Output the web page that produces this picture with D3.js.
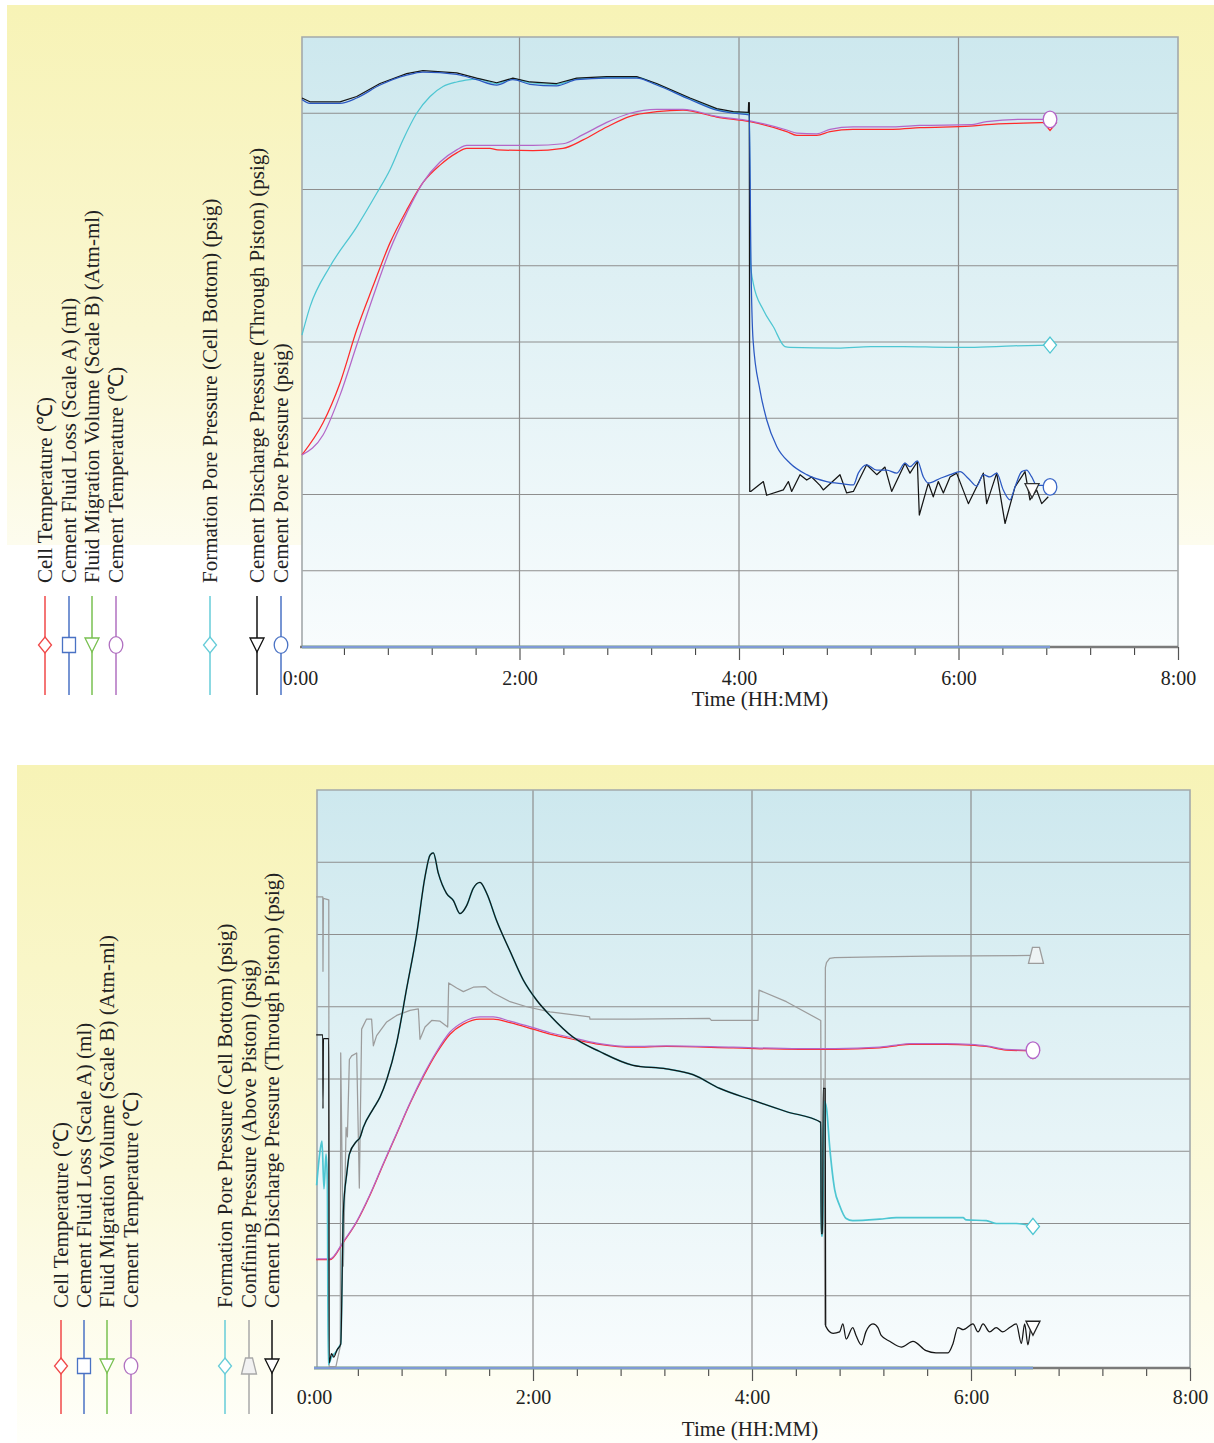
<!DOCTYPE html>
<html><head><meta charset="utf-8">
<script src="https://cdnjs.cloudflare.com/ajax/libs/d3/7.8.5/d3.min.js"></script>
<style>body{margin:0;background:#fff}svg{display:block}</style>
</head><body>
<svg id="chart" width="1214" height="1443"></svg>
<script>
// ---------------- DATA (time in hours, value in grid units 0..8) ----------------
const timeTicks = [0, 2, 4, 6, 8];
const tickLabels = ["0:00", "2:00", "4:00", "6:00", "8:00"];
const minorTicks = [0.4,0.8,1.2,1.6,2.4,2.8,3.2,3.6,4.4,4.8,5.2,5.6,6.4,6.8,7.2,7.6];
const gridLevels = [1, 2, 3, 4, 5, 6, 7];
const gridTimes = [2, 4, 6];
const axisTitle = "Time (HH:MM)";

const legendNames1 = ["Cell Temperature (℃)", "Cement Fluid Loss (Scale A) (ml)", "Fluid Migration Volume (Scale B) (Atm-ml)", "Cement Temperature (℃)",
  "Formation Pore Pressure (Cell Bottom) (psig)", "Cement Discharge Pressure (Through Piston) (psig)", "Cement Pore Pressure (psig)"];
const legendNames2 = ["Cell Temperature (℃)", "Cement Fluid Loss (Scale A) (ml)", "Fluid Migration Volume (Scale B) (Atm-ml)", "Cement Temperature (℃)",
  "Formation Pore Pressure (Cell Bottom) (psig)", "Confining Pressure (Above Piston) (psig)", "Cement Discharge Pressure (Through Piston) (psig)"];

// ---- Panel 1 ----
const p1CellTemp = [[0.018,2.52],[0.21,2.94],[0.364,3.46],[0.517,4.16],[0.665,4.73],[0.82,5.30],[0.972,5.73],[1.12,6.09],[1.276,6.32],[1.428,6.48],[1.519,6.54],[1.731,6.54],[1.80,6.52],[2.123,6.51],[2.396,6.54],[2.579,6.65],[2.795,6.82],[3.007,6.96],[3.25,7.02],[3.49,7.04],[3.797,6.95],[4.1,6.89],[4.435,6.76],[4.526,6.71],[4.708,6.71],[4.829,6.76],[5.039,6.79],[5.403,6.79],[5.649,6.81],[6.105,6.83],[6.257,6.85],[6.588,6.87],[6.834,6.88]];
const p1CementTemp = [[0.018,2.52],[0.21,2.78],[0.364,3.30],[0.517,3.96],[0.665,4.59],[0.82,5.21],[0.972,5.69],[1.12,6.09],[1.276,6.36],[1.428,6.52],[1.519,6.58],[2.123,6.58],[2.396,6.60],[2.579,6.72],[2.795,6.88],[3.007,7.00],[3.25,7.05],[3.49,7.05],[3.797,6.96],[4.1,6.90],[4.435,6.78],[4.526,6.74],[4.708,6.73],[4.829,6.79],[5.039,6.82],[5.403,6.82],[5.649,6.84],[6.105,6.85],[6.257,6.89],[6.588,6.92],[6.834,6.92]];
const p1Formation = [[0.018,4.09],[0.091,4.46],[0.273,4.99],[0.517,5.51],[0.699,5.95],[0.82,6.26],[0.938,6.65],[1.063,7.00],[1.185,7.22],[1.303,7.35],[1.428,7.41],[1.549,7.44],[1.61,7.45],[1.792,7.39],[1.94,7.45],[2.096,7.40],[2.339,7.38],[2.521,7.45],[2.795,7.47],[3.068,7.47],[3.25,7.38],[3.554,7.19],[3.797,7.05],[3.948,7.01],[4.094,7.00],[4.105,5.04],[4.13,4.77],[4.222,4.42],[4.313,4.20],[4.419,3.94],[4.465,3.93],[4.9,3.92],[5.2,3.94],[5.5,3.94],[5.9,3.93],[6.1,3.93],[6.5,3.95],[6.834,3.96]];
const p1Discharge = [[0.018,7.20],[0.09,7.15],[0.364,7.15],[0.517,7.22],[0.729,7.39],[0.972,7.52],[1.12,7.56],[1.428,7.53],[1.61,7.46],[1.792,7.40],[1.94,7.46],[2.096,7.41],[2.339,7.39],[2.521,7.46],[2.795,7.48],[3.068,7.48],[3.25,7.39],[3.554,7.20],[3.797,7.06],[3.948,7.02],[4.085,7.01],[4.088,7.14],[4.094,7.14],[4.098,2.04],
  [4.107,2.04],[4.222,2.17],[4.252,1.99],[4.404,2.06],[4.45,2.17],[4.48,2.04],[4.556,2.26],[4.617,2.19],[4.662,2.23],[4.738,2.12],[4.768,2.06],[4.92,2.26],[4.981,2.02],[5.042,2.04],[5.163,2.39],[5.255,2.26],[5.33,2.36],[5.391,2.04],[5.513,2.41],[5.558,2.28],[5.625,2.43],[5.643,1.73],[5.725,2.15],[5.77,1.97],[5.816,2.17],[5.862,2.02],[5.923,2.23],[5.983,2.28],[6.09,1.88],[6.226,2.28],[6.257,1.88],[6.348,2.28],[6.424,1.62],[6.515,2.10],[6.606,2.30],[6.651,1.93],[6.712,2.06],[6.758,1.88],[6.818,1.97]];
const p1Pore = [[0.018,7.18],[0.09,7.13],[0.364,7.13],[0.517,7.20],[0.729,7.37],[0.972,7.50],[1.12,7.54],[1.428,7.51],[1.61,7.44],[1.792,7.37],[1.94,7.44],[2.096,7.38],[2.339,7.36],[2.521,7.44],[2.795,7.46],[3.068,7.46],[3.25,7.37],[3.554,7.18],[3.797,7.04],[3.948,7.00],[4.094,6.98],[4.109,5.04],[4.128,4.03],[4.191,3.37],[4.252,2.98],[4.344,2.63],[4.465,2.41],[4.617,2.26],[4.799,2.17],[4.95,2.14],[5.042,2.125],[5.087,2.28],[5.163,2.39],[5.255,2.32],[5.346,2.32],[5.437,2.28],[5.513,2.41],[5.558,2.365],[5.625,2.44],[5.68,2.23],[5.725,2.15],[5.831,2.21],[5.923,2.26],[6.014,2.30],[6.09,2.21],[6.166,2.11],[6.226,2.26],[6.287,2.23],[6.348,2.28],[6.408,2.06],[6.469,1.93],[6.515,2.10],[6.576,2.30],[6.621,2.32],[6.667,2.23],[6.712,2.12],[6.773,2.12],[6.834,2.10]];
const p1FluidLoss = [[0.018,0],[6.834,0]];
const p1Migration = [[0.018,0],[6.834,0]];
const p1DischargeMarker = [6.67, 2.05];

// ---- Panel 2 ----
const p2CellTemp = [[0.02,1.50],[0.146,1.50],[0.268,1.74],[0.39,2.02],[0.511,2.39],[0.633,2.82],[0.755,3.24],[0.877,3.66],[0.998,4.03],[1.12,4.36],[1.242,4.62],[1.364,4.76],[1.516,4.83],[1.638,4.83],[1.79,4.78],[2.0,4.69],[2.155,4.62],[2.396,4.54],[2.609,4.48],[2.913,4.44],[3.218,4.45],[3.827,4.43],[4.435,4.41],[4.76,4.41],[5.166,4.43],[5.318,4.46],[5.44,4.48],[5.775,4.48],[5.99,4.47],[6.14,4.45],[6.32,4.40],[6.566,4.39]];
const p2CementTemp = [[0.02,1.51],[0.146,1.51],[0.268,1.75],[0.39,2.03],[0.511,2.40],[0.633,2.83],[0.755,3.25],[0.877,3.67],[0.998,4.05],[1.12,4.38],[1.242,4.65],[1.364,4.79],[1.516,4.86],[1.638,4.86],[1.79,4.80],[2.0,4.71],[2.155,4.64],[2.396,4.56],[2.609,4.49],[2.913,4.45],[3.218,4.46],[3.827,4.44],[4.435,4.42],[4.76,4.42],[5.166,4.44],[5.318,4.47],[5.44,4.49],[5.775,4.49],[5.99,4.48],[6.14,4.46],[6.32,4.41],[6.566,4.40]];
const p2Discharge = [[0.02,4.61],[0.08,4.61],[0.082,3.59],[0.086,4.56],[0.135,4.56],[0.138,0.07],[0.16,0.2],[0.18,0.15],[0.21,0.25],[0.244,0.33],[0.268,2.16],[0.30,2.7],[0.323,2.96],[0.39,3.14],[0.42,3.19],[0.45,3.33],[0.542,3.59],[0.603,3.75],[0.664,3.99],[0.755,4.50],[0.847,5.26],[0.938,6.01],[1.014,6.80],[1.06,7.10],[1.09,7.13],[1.135,6.85],[1.21,6.57],[1.273,6.47],[1.333,6.29],[1.394,6.40],[1.455,6.64],[1.516,6.72],[1.577,6.57],[1.668,6.19],[1.79,5.77],[1.911,5.37],[2.034,5.09],[2.155,4.88],[2.365,4.58],[2.609,4.38],[2.913,4.19],[3.218,4.14],[3.461,4.06],[3.705,3.87],[4.0,3.71],[4.31,3.55],[4.628,3.40],
  [4.632,1.86],[4.645,1.86],[4.65,3.87],[4.668,3.87],[4.673,0.58],[4.74,0.48],[4.80,0.50],[4.83,0.61],[4.86,0.40],[4.92,0.56],[4.95,0.45],[5.0,0.32],[5.04,0.50],[5.105,0.61],[5.15,0.56],[5.18,0.45],[5.257,0.37],[5.364,0.29],[5.47,0.37],[5.59,0.24],[5.68,0.21],[5.79,0.21],[5.836,0.34],[5.88,0.56],[5.93,0.53],[6.018,0.61],[6.064,0.50],[6.11,0.61],[6.17,0.50],[6.23,0.56],[6.29,0.50],[6.353,0.56],[6.414,0.61],[6.46,0.34],[6.49,0.61],[6.52,0.32],[6.55,0.58],[6.566,0.55]];
const p2FormationStart = [[0.024,2.53],[0.055,3.0],[0.073,3.14],[0.091,2.48],[0.11,2.96],[0.122,2.6],[0.13,0.05],[0.16,0.15],[0.2,0.22],[0.235,0.31]];
const p2FormationEnd = [[4.632,1.83],[4.645,1.83],[4.66,3.69],[4.68,3.60],[4.71,3.05],[4.755,2.47],[4.80,2.25],[4.86,2.07],[4.92,2.04],[5.166,2.06],[5.318,2.08],[5.927,2.08],[5.957,2.05],[6.14,2.04],[6.23,2.0],[6.414,2.0],[6.566,1.96]];
const p2Confining = [[0.02,6.52],[0.08,6.52],[0.082,5.49],[0.086,6.50],[0.135,6.48],[0.138,0.02],[0.2,0.02],[0.24,0.3],[0.244,4.36],[0.268,1.41],[0.293,3.33],[0.305,3.2],[0.323,4.27],[0.344,4.32],[0.39,4.36],[0.414,2.49],[0.435,4.69],[0.48,4.83],[0.526,4.83],[0.542,4.46],[0.572,4.6],[0.664,4.79],[0.755,4.88],[0.877,4.95],[0.953,4.97],[0.968,4.55],[1.014,4.72],[1.075,4.81],[1.151,4.80],[1.221,4.72],[1.23,5.33],[1.303,5.26],[1.364,5.21],[1.455,5.27],[1.562,5.28],[1.638,5.19],[1.79,5.07],[1.942,5.00],[2.155,4.93],[2.517,4.86],[2.52,4.83],[2.913,4.83],[3.613,4.84],[3.629,4.81],[4.055,4.81],[4.064,5.23],[4.314,5.07],[4.628,4.81],[4.635,1.88],[4.645,1.88],[4.655,4.0],[4.665,0.6],[4.67,5.54],[4.68,5.61],[4.709,5.67],[4.755,5.68],[5.135,5.69],[5.607,5.70],[6.566,5.71]];
const p2FluidLoss = [[0.0,0],[6.566,0]];
const p2Migration = [[0.0,0],[6.566,0]];

// ---------------- LAYOUT / STYLE ----------------
const FONT = '"Liberation Serif","Times New Roman",serif';
const C = {red:'#ff2a2a', purple:'#b466c8', cyan:'#4ec6d2', black:'#151515', blue:'#2b58c2', gray:'#9c9c9c', base:'#7f9ad6', green:'#78c050'};
const LC = {red:'#f04848', blue:'#4a72c4', green:'#78c050', purple:'#b070c0', cyan:'#66ccd8', black:'#111', gray:'#a8a8a8'};

const svg = d3.select('#chart');
const defs = svg.append('defs');
function grad(id, stops){
  const g = defs.append('linearGradient').attr('id', id).attr('x1',0).attr('y1',0).attr('x2',0).attr('y2',1);
  stops.forEach(([o,c]) => g.append('stop').attr('offset', o).attr('stop-color', c));
}
grad('yel1', [[0,'#f7f3b6'],[0.6,'#faf7d2'],[1,'#fdfcee']]);
grad('yel2', [[0,'#f7f3b6'],[0.6,'#fbf9da'],[1,'#fffffa']]);
grad('plotbg', [[0,'#cde8ee'],[1,'#f8fcfd']]);

svg.append('rect').attr('x',7).attr('y',5).attr('width',1207).attr('height',540).attr('fill','url(#yel1)');
svg.append('rect').attr('x',17).attr('y',765).attr('width',1197).attr('height',678).attr('fill','url(#yel2)');

function markerPath(shape){
  switch(shape){
    case 'diamond': return 'M0,-8L6.5,0L0,8L-6.5,0Z';
    case 'square': return 'M-6.5,-7.5H6.5V7.5H-6.5Z';
    case 'triDown': return 'M-7,-7L7,-7L0,7Z';
    case 'trap': return 'M-3.5,-8L3.5,-8L7.5,8L-7.5,8Z';
  }
  return '';
}
function drawMarker(g, shape, cx, cy, color, fill){
  if (shape === 'circle') {
    g.append('ellipse').attr('cx',cx).attr('cy',cy).attr('rx',6.8).attr('ry',8.3)
      .attr('fill', fill || '#fff').attr('stroke', color).attr('stroke-width',1.3);
  } else {
    g.append('path').attr('d', markerPath(shape)).attr('transform',`translate(${cx},${cy})`)
      .attr('fill', fill || '#fff').attr('stroke', color).attr('stroke-width',1.3);
  }
}

function drawPanel(cfg){
  const x = d3.scaleLinear().domain([0,8]).range(cfg.xr);
  const y = d3.scaleLinear().domain([0,8]).range(cfg.yr);
  const g = svg.append('g');
  const top = y(8), bot = y(0), right = x(8);
  g.append('rect').attr('x', cfg.plotLeft).attr('y', top).attr('width', right - cfg.plotLeft).attr('height', bot - top).attr('fill','url(#plotbg)');
  g.selectAll('.hg').data(gridLevels).join('line')
    .attr('x1', cfg.plotLeft).attr('x2', right).attr('y1', d => y(d)).attr('y2', d => y(d))
    .attr('stroke','#8e8e8e').attr('stroke-width',1.2);
  g.selectAll('.vg').data(gridTimes).join('line')
    .attr('x1', d => x(d)).attr('x2', d => x(d)).attr('y1', top).attr('y2', bot)
    .attr('stroke','#8e8e8e').attr('stroke-width',1.2);
  g.append('path').attr('d', `M${cfg.plotLeft},${bot}V${top}H${right}V${bot}`)
    .attr('fill','none').attr('stroke','#a3a9ab').attr('stroke-width',1.6);

  const minorAxis = d3.axisBottom(x).tickValues(minorTicks).tickSize(8).tickFormat('');
  const ma = g.append('g').attr('transform',`translate(0,${bot})`).call(minorAxis);
  ma.select('.domain').remove();
  ma.selectAll('line').attr('stroke','#333').attr('stroke-width',1);
  const majorAxis = d3.axisBottom(x).tickValues(timeTicks).tickSize(13).tickPadding(cfg.labPad)
    .tickFormat((d,i) => tickLabels[i]);
  const MA = g.append('g').attr('transform',`translate(0,${bot})`).call(majorAxis);
  MA.select('.domain').remove();
  MA.selectAll('line').attr('stroke','#555').attr('stroke-width',1.2).filter(d => d === 0).remove();
  MA.selectAll('text').attr('font-family', FONT).attr('font-size', 20).attr('fill','#222');
  g.append('line').attr('x1', x(0)).attr('x2', right).attr('y1', bot).attr('y2', bot)
    .attr('stroke','#7a7a7a').attr('stroke-width',2.4);
  g.append('text').attr('x', cfg.titleX).attr('y', cfg.titleY).attr('text-anchor','middle')
    .attr('font-family', FONT).attr('font-size', 21).attr('fill','#222').text(axisTitle);

  cfg.series.forEach(s => {
    const line = d3.line().x(d => x(d[0])).y(d => y(d[1]))
      .curve(s.smooth ? d3.curveMonotoneX : d3.curveLinear);
    g.append('path').attr('d', line(s.data)).attr('fill','none').attr('stroke', s.color)
      .attr('stroke-width', s.w || 1.25).attr('stroke-linejoin','round');
  });
  cfg.series.forEach(s => {
    if (!s.marker) return;
    const p = s.markerAt || s.data[s.data.length - 1];
    drawMarker(g, s.marker, x(p[0]) + (s.mdx || 0), y(p[1]), s.mcolor || s.color, s.mfill);
  });

  const lg = svg.append('g');
  cfg.legend.forEach((e, i) => {
    const lx = cfg.legendX[i];
    lg.append('line').attr('x1', lx).attr('x2', lx).attr('y1', cfg.legLineTop).attr('y2', cfg.legLineBot)
      .attr('stroke', e.color).attr('stroke-width', 1.5);
    drawMarker(lg, e.shape, lx, cfg.legMarkY, e.color, e.fill);
    lg.append('text').attr('transform', `translate(${lx + 6.5},${cfg.legTextBot}) rotate(-90)`)
      .attr('font-family', FONT).attr('font-size', 21).attr('fill','#222').text(e.name);
  });
}

drawPanel({
  xr: [300, 1178], yr: [647, 37], plotLeft: 302, labPad: 11, titleX: 760, titleY: 706,
  series: [
    {data: p1Migration, color: C.green, w: 2.5},
    {data: p1FluidLoss, color: C.base, w: 2.5},
    {data: p1CellTemp, color: C.red, smooth: true, marker: 'diamond'},
    {data: p1Formation, color: C.cyan, smooth: true, marker: 'diamond'},
    {data: p1CementTemp, color: C.purple, smooth: true, marker: 'circle'},
    {data: p1Discharge, color: C.black, marker: 'triDown', markerAt: p1DischargeMarker, mcolor: '#333'},
    {data: p1Pore, color: C.blue, smooth: true, marker: 'circle', mcolor: '#3a66c8'}
  ],
  legendX: [45, 69, 92, 116, 210, 257, 281],
  legLineTop: 596, legLineBot: 695, legMarkY: 645, legTextBot: 583,
  legend: [
    {name: legendNames1[0], color: LC.red, shape: 'diamond'},
    {name: legendNames1[1], color: LC.blue, shape: 'square'},
    {name: legendNames1[2], color: LC.green, shape: 'triDown'},
    {name: legendNames1[3], color: LC.purple, shape: 'circle'},
    {name: legendNames1[4], color: LC.cyan, shape: 'diamond'},
    {name: legendNames1[5], color: LC.black, shape: 'triDown'},
    {name: legendNames1[6], color: LC.blue, shape: 'circle'}
  ]
});

const p2Formation = p2FormationStart
  .concat(p2Discharge.filter(d => d[0] >= 0.244 && d[0] <= 4.628))
  .concat(p2FormationEnd);

drawPanel({
  xr: [314, 1190], yr: [1368, 790], plotLeft: 317, labPad: 9, titleX: 750, titleY: 1436,
  series: [
    {data: p2Migration, color: C.green, w: 2.5},
    {data: p2FluidLoss, color: C.base, w: 2.5},
    {data: p2Confining, color: C.gray, marker: 'trap', mdx: 3, mfill: '#eef3f4'},
    {data: p2CellTemp, color: C.red, smooth: true, marker: 'diamond'},
    {data: p2CementTemp, color: C.purple, smooth: true, marker: 'circle'},
    {data: p2Formation, color: C.cyan, w: 1.7, smooth: true, marker: 'diamond'},
    {data: p2Discharge, color: C.black, smooth: true, marker: 'triDown', mcolor: '#222'}
  ],
  legendX: [61, 84, 107, 131, 225, 249, 272],
  legLineTop: 1320, legLineBot: 1414, legMarkY: 1366, legTextBot: 1308,
  legend: [
    {name: legendNames2[0], color: LC.red, shape: 'diamond'},
    {name: legendNames2[1], color: LC.blue, shape: 'square'},
    {name: legendNames2[2], color: LC.green, shape: 'triDown'},
    {name: legendNames2[3], color: LC.purple, shape: 'circle'},
    {name: legendNames2[4], color: LC.cyan, shape: 'diamond'},
    {name: legendNames2[5], color: LC.gray, shape: 'trap', fill: '#f2f2f2'},
    {name: legendNames2[6], color: LC.black, shape: 'triDown'}
  ]
});
</script>
</body></html>
